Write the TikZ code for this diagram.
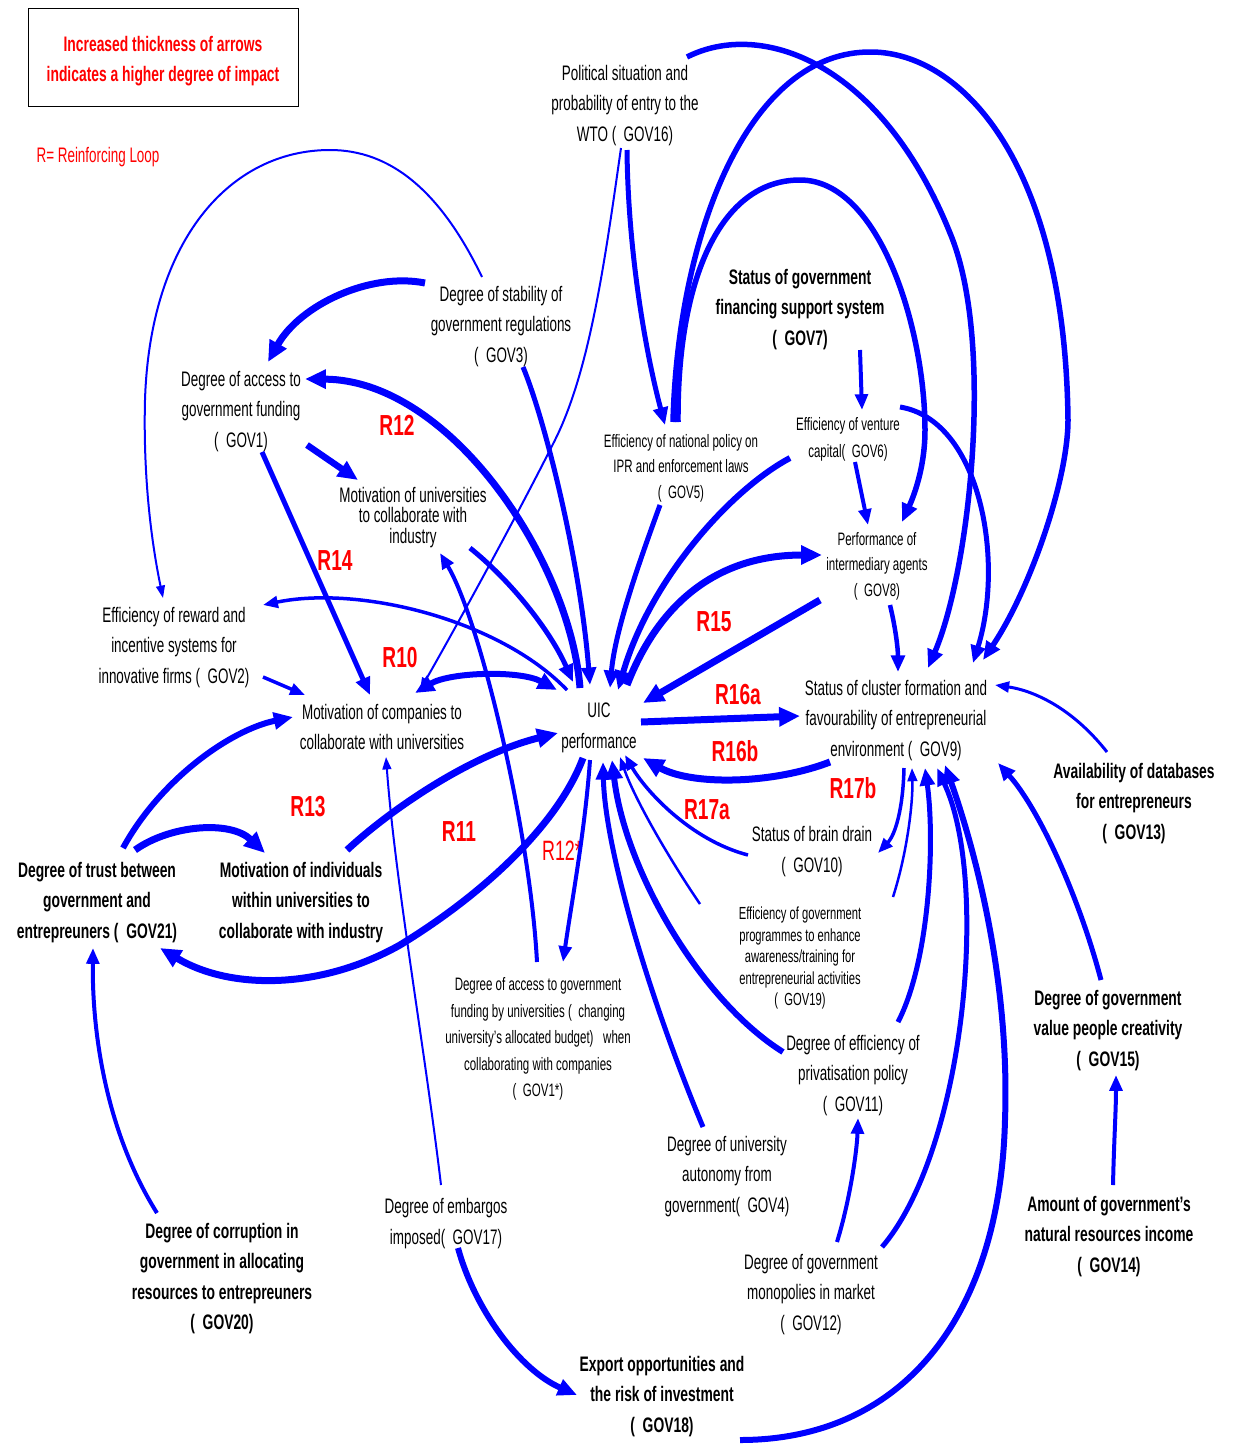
\documentclass[tikz,border=0pt]{standalone}
\usepackage{fontspec}
\setmainfont{Liberation Sans}[FakeStretch=0.64,BoldFeatures={FakeStretch=0.66}]
\usetikzlibrary{arrows.meta,calc}
\definecolor{linkblue}{RGB}{0,0,255}
\definecolor{loopred}{RGB}{255,0,0}
% invisible strut that gives the first line of a label some extra head room
\newcommand\toppad[1]{\rule{0pt}{#1}}

\begin{document}
\begin{tikzpicture}[x=1pt,y=-1pt,
  txtbase/.style={align=center,inner sep=0pt,text=black},
  txt/.style={txtbase,font=\fontsize{21}{30.5}\selectfont},
  txtb/.style={txtbase,font=\bfseries\fontsize{21}{30.5}\selectfont},
  txts/.style={txtbase,font=\fontsize{18}{25.5}\selectfont},
  loopname/.style={inner sep=0pt,text=loopred,font=\bfseries\fontsize{29}{30}\selectfont},
  flow/.style={draw=linkblue,line width=#1,-{Triangle[length=9pt 1.7,width=5pt 1.9]}},
  flowboth/.style={draw=linkblue,line width=#1,{Triangle[length=9pt 1.7,width=5pt 1.9]}-{Triangle[length=9pt 1.7,width=5pt 1.9]}}]

\useasboundingbox (0,0) rectangle (1234,1446);
\fill[white] (0,0) rectangle (1234,1446);

% ---------- legend ----------
\node[draw=black,line width=1pt,minimum width=270pt,minimum height=98pt,inner sep=0pt] (legend) at (163,57) {};
\node[align=center,inner sep=0pt,text=loopred,font=\bfseries\fontsize{21}{30}\selectfont] (legendtext) at (163,61)
      {Increased thickness of arrows\\indicates a higher degree of impact};
\node[inner sep=0pt,text=loopred,font=\fontsize{21}{25}\selectfont] (key) at (98,157) {R= Reinforcing Loop};

% ---------- variables ----------
\node[txt] (gov16) at (625,103) {\toppad{20pt}Political situation and\\probability of entry to the\\WTO (~~GOV16)};
\node[txt] (gov3) at (501,324) {\toppad{20pt}Degree of stability of\\government regulations\\(~~GOV3)};
\node[txt] (gov1) at (241,409) {\toppad{20pt}Degree of access to\\government funding\\(~~GOV1)};
\node[txtbase,font=\fontsize{21}{20.5}\selectfont] (univ) at (413,515) {\toppad{20pt}Motivation of universities\\to collaborate with\\industry};
\node[txt] (gov2) at (174,645) {\toppad{20pt}Efficiency of reward and\\incentive systems for\\innovative firms (~~GOV2)};
\node[txt] (comp) at (382,727) {Motivation of companies to\\collaborate with universities};
\node[txt] (uic) at (599,725) {\toppad{20pt}UIC\\performance};
\node[txts] (gov5) at (681,466) {\toppad{17pt}Efficiency of national policy on\\IPR and enforcement laws\\(~~GOV5)};
\node[txtb] (gov7) at (800,307) {\toppad{20pt}Status of government\\financing support system\\(~~GOV7)};
\node[txtbase,font=\fontsize{18}{27}\selectfont] (gov6) at (848,437) {\toppad{17pt}Efficiency of venture\\capital(~~GOV6)};
\node[txts] (gov8) at (877,564) {\toppad{17pt}Performance of\\intermediary agents\\(~~GOV8)};
\node[txt] (gov9) at (896,718) {\toppad{20pt}Status of cluster formation and\\favourability of entrepreneurial\\environment (~~GOV9)};
\node[txtb] (gov13) at (1134,801) {\toppad{20pt}Availability of databases\\for entrepreneurs\\(~~GOV13)};
\node[txt] (gov10) at (812,849) {\toppad{20pt}Status of brain drain\\(~~GOV10)};
\node[txtbase,font=\fontsize{17.5}{21.5}\selectfont] (gov19) at (800,956) {\toppad{16.8pt}Efficiency of government\\programmes to enhance\\awareness/training for\\entrepreneurial activities\\(~~GOV19)};
\node[txt] (gov11) at (853,1073) {\toppad{20pt}Degree of efficiency of\\privatisation policy\\(~~GOV11)};
\node[txtb] (gov15) at (1108,1028) {\toppad{20pt}Degree of government\\value people creativity\\(~~GOV15)};
\node[txtb] (gov14) at (1109,1234) {\toppad{20pt}Amount of government's\\natural resources income\\(~~GOV14)};
\node[txt] (gov12) at (811,1292) {\toppad{20pt}Degree of government\\monopolies in market\\(~~GOV12)};
\node[txt] (gov4) at (727,1174) {\toppad{20pt}Degree of university\\autonomy from\\government(~~GOV4)};
\node[txtb] (gov18) at (662,1394) {\toppad{20pt}Export opportunities and\\the risk of investment\\(~~GOV18)};
\node[txt] (gov17) at (446,1221) {\toppad{20pt}Degree of embargos\\imposed(~~GOV17)};
\node[txtb] (gov20) at (222,1276) {\toppad{20pt}Degree of corruption in\\government in allocating\\resources to entrepreuners\\(~~GOV20)};
\node[txtb] (gov21) at (97,900) {\toppad{20pt}Degree of trust between\\government and\\entrepreuners (~~GOV21)};
\node[txtb] (indiv) at (301,900) {\toppad{20pt}Motivation of individuals\\within universities to\\collaborate with industry};
\node[txtbase,font=\fontsize{18}{26.5}\selectfont] (gov1s) at (538,1037) {\toppad{17pt}Degree of access to government\\funding by universities (~~changing\\university's allocated budget)~~~when\\collaborating with companies\\(~~GOV1*)};

% ---------- loop labels ----------
\node[loopname] (r12) at (397,425) {R12};
\node[loopname] (r14) at (335,561) {R14};
\node[loopname] (r10) at (400,658) {R10};
\node[loopname] (r13) at (308,807) {R13};
\node[loopname] (r11) at (459,832) {R11};
\node[loopname,font=\fontsize{28}{30}\selectfont] (r12s) at (562,851) {R12*};
\node[loopname] (r15) at (714,622) {R15};
\node[loopname] (r16a) at (738,695) {R16a};
\node[loopname] (r16b) at (735,751) {R16b};
\node[loopname] (r17a) at (707,810) {R17a};
\node[loopname] (r17b) at (853,788) {R17b};

% ---------- links: upper part ----------
\draw[flow=7pt] ($(gov3)+(-76,-41)$) .. controls (370,272) and (300,305) .. ($(gov1)+(27,-47)$);
\draw[flow=2pt] ($(gov3)+(-19,-47)$) .. controls (440,190) and (390,150) .. (330,150)
   .. controls (230,150) and (150,240) .. (145,400) .. controls (143,480) and (152,545) .. ($(gov2)+(-11,-47)$);
\draw[flow=5.5pt] ($(gov16)+(62,-46)$) .. controls (760,20) and (880,60) .. (950,233)
   .. controls (995,340) and (970,570) .. ($(gov9)+(32,-50)$);
\draw[flow=5.5pt] ($(gov5)+(-8,-44)$) .. controls (678,230) and (750,50) .. (872,52)
   .. controls (960,53) and (1065,160) .. (1068,420) .. controls (1068,480) and (1030,590) .. ($(gov9)+(87,-58)$);
\draw[flow=5.5pt] ($(gov5)+(-3,-44)$) .. controls (677,280) and (720,180) .. (800,180)
   .. controls (880,180) and (925,330) .. (925,430) .. controls (925,470) and (912,500) .. ($(gov8)+(25,-42)$);
\draw[flow=5pt] ($(gov16)+(2,47)$) .. controls (628,250) and (645,350) .. ($(gov5)+(-16,-41)$);
\draw[flow=2pt] ($(gov16)+(-4,45)$) .. controls (605,260) and (590,370) .. (555,440)
   .. controls (520,510) and (460,620) .. ($(comp)+(38,-37)$);
\draw[flow=4pt] ($(gov7)+(60,43)$) -- ($(gov6)+(14,-27)$);
\draw[flow=4pt] ($(gov6)+(7,25)$) -- ($(gov8)+(-9,-39)$);
\draw[flow=4.5pt] ($(gov8)+(13,41)$) .. controls (896,630) and (898,650) .. ($(gov9)+(2,-46)$);
\draw[flow=5pt] ($(gov6)+(52,-30)$) .. controls (980,420) and (1005,560) .. ($(gov9)+(77,-55)$);

% ---------- links into and out of UIC performance ----------
\draw[flow=5pt] ($(gov3)+(22,43)$) .. controls (545,420) and (580,560) .. ($(uic)+(-9,-40)$);
\draw[flow=7pt] ($(uic)+(-19,-37)$) .. controls (570,560) and (450,380) .. ($(gov1)+(64,-30)$);
\draw[flow=5pt] ($(univ)+(57,33)$) .. controls (510,580) and (550,630) .. ($(uic)+(-26,-43)$);
\draw[flow=5pt] ($(gov5)+(-21,39)$) .. controls (640,560) and (615,630) .. ($(uic)+(11,-37)$);
\draw[flow=6pt] ($(gov6)+(-58,21)$) .. controls (730,490) and (650,580) .. ($(uic)+(19,-35)$);
\draw[flow=7pt] ($(uic)+(28,-40)$) .. controls (660,600) and (720,555) .. ($(gov8)+(-55,-9)$);
\draw[flow=7pt] ($(gov8)+(-57,36)$) -- ($(uic)+(44,-22)$);
\draw[flow=7pt] ($(uic)+(42,-3)$) -- ($(gov9)+(-96,-2)$);
\draw[flow=7pt] ($(gov9)+(-66,44)$) .. controls (770,785) and (690,785) .. ($(uic)+(44,33)$);
\draw[flow=3.5pt] ($(gov10)+(-64,6)$) .. controls (690,840) and (645,790) .. ($(uic)+(26,30)$);
\draw[flow=2.5pt] ($(gov19)+(-100,-52)$) .. controls (670,860) and (635,800) .. ($(uic)+(21,32)$);
\draw[flow=6pt] ($(gov11)+(-70,-21)$) .. controls (700,1000) and (625,870) .. ($(uic)+(13,35)$);
\draw[flow=5pt] ($(gov4)+(-24,-47)$) .. controls (650,1000) and (605,850) .. ($(uic)+(4,37)$);
\draw[flow=4pt] ($(uic)+(-9,35)$) .. controls (585,830) and (572,900) .. ($(gov1s)+(25,-75)$);
\draw[flow=4pt] ($(gov1s)+(-1,-75)$) .. controls (530,830) and (480,620) .. ($(univ)+(27,38)$);
\draw[flow=7pt] ($(uic)+(-16,33)$) .. controls (560,820) and (490,890) .. (400,945)
   .. controls (320,990) and (230,990) .. ($(gov21)+(63,48)$);
\draw[flow=7pt] ($(indiv)+(46,-50)$) .. controls (390,810) and (470,755) .. ($(uic)+(-41,8)$);
\draw[flow=3.5pt] ($(uic)+(-32,-35)$) .. controls (500,620) and (360,585) .. ($(gov2)+(89,-40)$);
\draw[flowboth=6pt] ($(comp)+(33,-34)$) .. controls (450,672) and (520,670) .. ($(uic)+(-42,-35)$);

% ---------- links on the left ----------
\draw[flow=7pt] ($(gov21)+(38,-50)$) .. controls (170,825) and (230,820) .. ($(indiv)+(-36,-47)$);
\draw[flow=6pt] ($(gov21)+(26,-52)$) .. controls (160,780) and (230,730) .. ($(comp)+(-89,-10)$);
\draw[flow=6.5pt] ($(gov1)+(66,36)$) -- ($(univ)+(-55,-35)$);
\draw[flow=5pt] ($(gov1)+(21,43)$) -- ($(comp)+(-12,-32)$);
\draw[flow=3.5pt] ($(gov2)+(89,32)$) -- ($(comp)+(-77,-32)$);
\draw[flow=2pt] ($(gov17)+(-5,-36)$) .. controls (425,1050) and (395,880) .. ($(comp)+(4,30)$);
\draw[flow=6pt] ($(gov17)+(12,27)$) .. controls (475,1310) and (520,1370) .. ($(gov18)+(-85,1)$);
\draw[flow=4pt] ($(gov20)+(-65,-63)$) .. controls (105,1130) and (92,1030) .. ($(gov21)+(-4,48)$);

% ---------- links around the entrepreneurial environment ----------
\draw[flow=6pt] ($(gov18)+(78,46)$) .. controls (900,1440) and (1000,1320) .. (1005,1120)
   .. controls (1010,980) and (975,850) .. ($(gov9)+(49,47)$);
\draw[flow=5pt] ($(gov12)+(71,-45)$) .. controls (965,1150) and (990,880) .. ($(gov9)+(41,50)$);
\draw[flow=4pt] ($(gov12)+(26,-50)$) .. controls (850,1200) and (857,1150) .. ($(gov11)+(5,45)$);
\draw[flow=5pt] ($(gov11)+(45,-51)$) .. controls (930,960) and (935,840) .. ($(gov9)+(29,50)$);
\draw[flow=2.5pt] ($(gov19)+(93,-59)$) .. controls (908,850) and (913,800) .. ($(gov9)+(16,50)$);
\draw[flow=3.5pt] ($(gov9)+(8,50)$) .. controls (903,810) and (895,835) .. ($(gov10)+(66,4)$);
\draw[flow=5pt] ($(gov15)+(-7,-48)$) .. controls (1080,900) and (1040,810) .. ($(gov9)+(102,45)$);
\draw[flow=3pt] ($(gov13)+(-27,-49)$) .. controls (1070,705) and (1030,690) .. ($(gov9)+(99,-33)$);
\draw[flow=4pt] ($(gov14)+(4,-49)$) .. controls (1114,1140) and (1116,1110) .. ($(gov15)+(8,47)$);

\end{tikzpicture}
\end{document}
